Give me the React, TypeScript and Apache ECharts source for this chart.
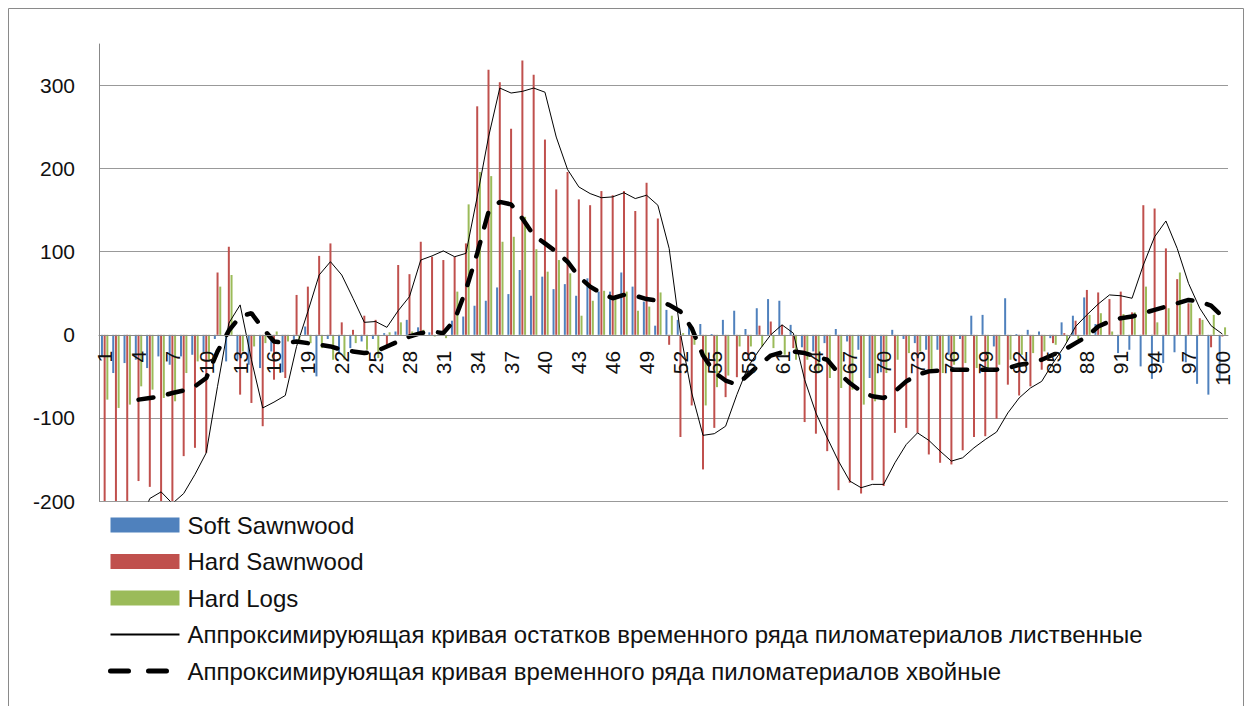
import React, { useEffect, useRef } from "react";
import * as echarts from "echarts";

const categories = Array.from({ length: 100 }, (_, i) => String(i + 1));

const softSawnwood = [
  -26, -46, -34, -30, -40, -26, -36, -26, -24, -22,
  -5, -32, -30, -36, -40, -20, -45, -6, 10, -50,
  -5, -22, -16, -8, -5, 2, 4, 18, 9, 3,
  2, 17, 22, 35, 41, 57, 49, 78, 47, 70,
  55, 61, 47, 68, 52, 52, 75, 58, 40, 11,
  30, 18, 13, 13, 1, 18, 29, 7, 32, 43,
  41, 12, -15, -20, -10, 7, -8, -18, -52, -45,
  6, -5, -10, -18, -18, -24, -5, 23, 24, -14,
  44, 1, 6, 4, -4, 15, 23, 45, 13, 0,
  -22, -18, -38, -53, -34, -21, -33, -59, -72, -54,
];

const hardSawnwood = [
  -215, -215, -210, -176, -183, -205, -210, -146, -136, -142,
  75, 106, -72, -82, -110, -54, -52, 48, 58, 95,
  110, 15, 6, 23, 18, -16, 84, 73, 112, 94,
  90, 94, 110, 275, 319, 304, 248, 330, 313, 235,
  175, 196, 163, 156, 173, 168, 173, 149, 183, 140,
  -12, -123, -85, -162, -112, -75, -51, -28, 11, 16,
  12, -16, -105, -119, -140, -187, -178, -191, -175, -182,
  -118, -112, -118, -144, -154, -156, -139, -123, -122, -101,
  -60, -73, -62, -42, -10, 2, 17, 54, 51, 43,
  52, 27, 156, 152, 104, 67, 38, 20, -15, -2,
];

const hardLogs = [
  -78, -88, -84, -62, -66, -76, -80, -46, -32, -30,
  58, 72, -20, -14, -10, 4, -8, -6, -10, -16,
  -30, -30, -10, -18, -28, 3, 15, 4, 6, -2,
  -4, 52, 157, 196, 191, 112, 118, 142, 103, 76,
  90, 74, 23, 41, 53, 45, 52, 29, 34, 51,
  23, 2, -12, -85, -63, -49, -14, -14, -14, -16,
  -24, -30, -30, -44, -52, -64, -66, -84, -80, -46,
  -30, -22, -20, -46, -46, -36, -34, -40, -40, -36,
  -30, -24, -22, -20, -12, -8, -5, 24, 26, 4,
  25, 27, 58, 15, 32, 75, 38, 18, 24, 9,
];

const hardwoodCurve = [
  null, null, null, -230, -197, -189, -203, -191, -168, -142,
  -62, 14, 36, -30, -88, -81, -73, -14, 28, 72,
  88, 72, 44, 15, 16, 9, 29, 46, 90, 95,
  101, 94, 98, 166, 238, 297, 291, 293, 297, 292,
  238, 199, 178, 170, 165, 166, 171, 164, 168, 156,
  104, 2, -70, -121, -119, -110, -72, -38, -18, 0,
  12, 2, -54, -94, -124, -152, -176, -184, -180, -180,
  -154, -132, -118, -127, -140, -152, -148, -136, -126, -117,
  -94, -76, -64, -56, -34, -14, 10, 24, 37, 48,
  47, 44, 84, 118, 137, 104, 62, 32, 11, 1,
];

const softwoodCurve = [
  null, null, null, -78, -76, -74, -70, -67, -62, -52,
  -20, 5, 22, 26, 8, -8, -10, -8, -10, -12,
  -14, -18, -20, -22, -20, -14, -8, -2, 2, 4,
  2, 18, 54, 98, 148, 160, 157, 140, 120, 110,
  100, 88, 70, 58, 50, 44, 48, 47, 43, 41,
  36, 28, 8, -25, -45, -55, -60, -48, -36, -25,
  -21, -20, -22, -26, -30, -46, -58, -68, -74, -76,
  -68, -56, -48, -44, -43, -42, -42, -42, -42, -42,
  -40, -36, -34, -30, -24, -18, -10, -2, 10, 16,
  20, 22, 26, 30, 34, 38, 42, 40, 35, 22,
];

const seriesNames = [
  "Soft Sawnwood",
  "Hard Sawnwood",
  "Hard Logs",
  "Аппроксимируюящая кривая остатков временного ряда пиломатериалов лиственные",
  "Аппроксимируюящая кривая временного ряда пиломатериалов хвойные",
];

const colors = ["#4F81BD", "#C0504D", "#9BBB59"];

export default function App() {
  const ref = useRef<HTMLDivElement>(null);
  useEffect(() => {
    document.body.style.margin = "0";
    const chart = echarts.init(ref.current!, null, { renderer: "svg" });
    const barCommon = {
      type: "bar",
      barWidth: 2,
      barGap: "35%",
      barCategoryGap: "20%",
    };
    const gridTop = 44;
    const gridBottom = 205;
    const gridHeight = 706 - gridTop - gridBottom;
    const yMin = -200;
    const yMax = 350;
    const zeroOffset = -(gridHeight * (0 - yMin)) / (yMax - yMin);
    chart.setOption({
      animation: false,
      textStyle: { fontFamily: "Liberation Sans" },
      graphic: [
        {
          type: "rect",
          silent: true,
          shape: { x: 8.5, y: 8.5, width: 1235, height: 720 },
          style: { fill: "none", stroke: "#8a8a8a", lineWidth: 1 },
        },
      ],
      grid: { left: 99, right: 24, top: gridTop, bottom: gridBottom },
      legend: {
        orient: "vertical",
        left: 108,
        top: 513,
        padding: 0,
        itemWidth: 69,
        itemHeight: 15,
        itemGap: 12.5,
        textStyle: { fontSize: 24, lineHeight: 24, color: "#111", padding: [0, 0, 0, 3] },
        data: [
          { name: seriesNames[0], icon: "rect" },
          { name: seriesNames[1], icon: "rect" },
          { name: seriesNames[2], icon: "rect" },
          { name: seriesNames[3], itemStyle: { opacity: 0 } },
          { name: seriesNames[4], itemStyle: { opacity: 0 }, lineStyle: { width: 5, type: [18, 20] } },
        ],
      },
      xAxis: {
        type: "category",
        data: categories,
        z: 10,
        position: "bottom",
        offset: zeroOffset,
        axisLine: { onZero: false, lineStyle: { color: "#888", width: 1 } },
        axisTick: { length: 6, interval: 0, lineStyle: { color: "#888" } },
        axisLabel: { interval: 2, rotate: 90, fontSize: 21, color: "#111", margin: 16 },
      },
      yAxis: {
        type: "value",
        min: yMin,
        max: yMax,
        interval: 100,
        axisLine: { show: true, lineStyle: { color: "#888" } },
        axisTick: { show: false },
        axisLabel: { fontSize: 21, color: "#111", margin: 24, showMaxLabel: false },
        splitLine: {
          lineStyle: {
            color: ["#999", "#999", "#999", "#999", "#999", "#999", "rgba(0,0,0,0)"],
            width: 1,
          },
        },
      },
      series: [
        { ...barCommon, name: seriesNames[0], data: softSawnwood, itemStyle: { color: colors[0] } },
        { ...barCommon, name: seriesNames[1], data: hardSawnwood, itemStyle: { color: colors[1] } },
        { ...barCommon, name: seriesNames[2], data: hardLogs, itemStyle: { color: colors[2] } },
        {
          type: "line",
          name: seriesNames[3],
          data: hardwoodCurve,
          symbol: "none",
          z: 5,
          itemStyle: { color: "#000" },
          lineStyle: { color: "#000", width: 1 },
        },
        {
          type: "line",
          name: seriesNames[4],
          data: softwoodCurve,
          symbol: "none",
          z: 6,
          itemStyle: { color: "#000" },
          lineStyle: { color: "#000", width: 4.5, type: [15, 15], cap: "round" },
        },
      ],
    });
    return () => chart.dispose();
  }, []);
  return <div ref={ref} style={{ width: 1252, height: 706 }} />;
}
